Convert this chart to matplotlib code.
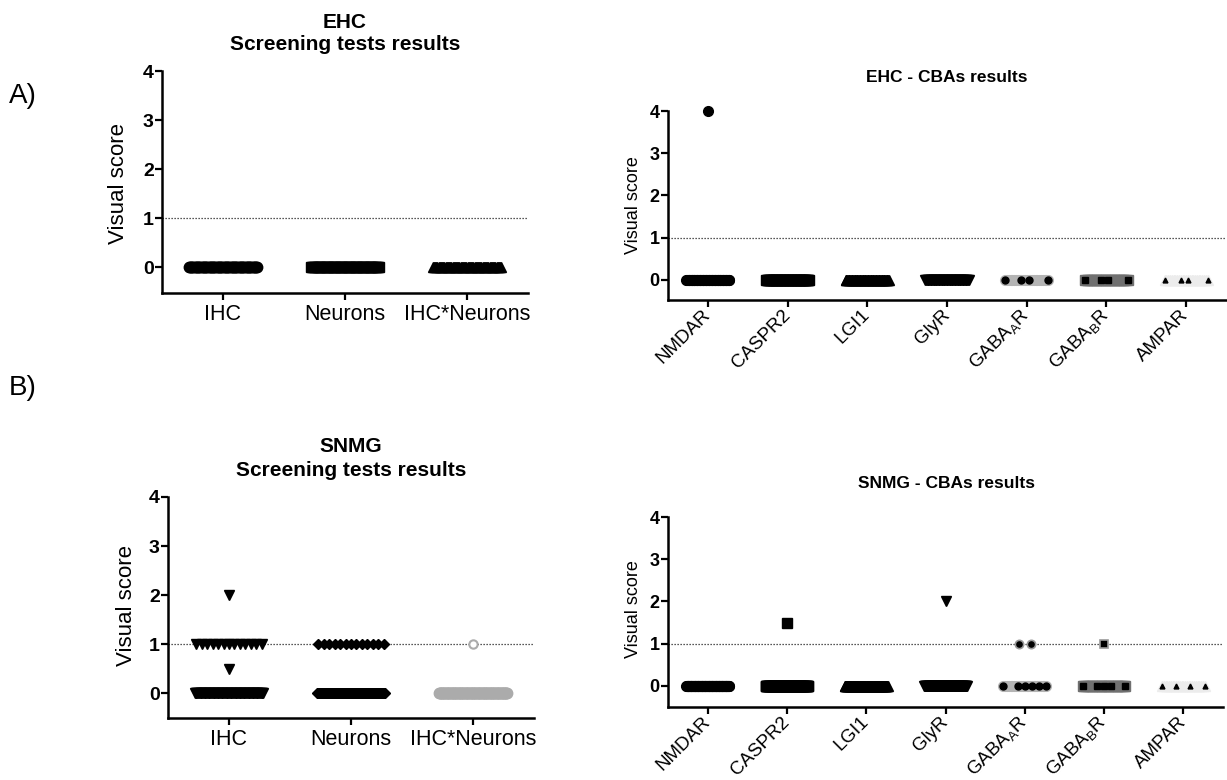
import numpy as np
import matplotlib
matplotlib.use("Agg")
import matplotlib.pyplot as plt

plt.rcParams['font.family'] = ['Liberation Sans', 'DejaVu Sans']

W, H = 1227, 780

# ---- data (visual scores) ----
screen_labels = ['IHC', 'Neurons', 'IHC*Neurons']
cba_labels = ['NMDAR', 'CASPR2', 'LGI1', 'GlyR',
              r'GABA$_\mathregular{A}$R', r'GABA$_\mathregular{B}$R', 'AMPAR']

# EHC screening: scores and number of samples per score
ehc_ihc_vals, ehc_ihc_n = [0], [60]
ehc_neu_vals, ehc_neu_n = [0], [60]
ehc_both_vals, ehc_both_n = [0], [60]

# SNMG screening
snmg_ihc_vals, snmg_ihc_n = [0, 0.5, 1, 2], [85, 1, 13, 1]
snmg_neu_vals, snmg_neu_n = [0, 1], [86, 13]
snmg_both_vals, snmg_both_n = [0, 1], [98, 1]

# EHC CBAs
ehc_nmdar_vals, ehc_nmdar_n = [0, 4], [59, 1]
ehc_caspr2_vals, ehc_caspr2_n = [0], [60]
ehc_lgi1_vals, ehc_lgi1_n = [0], [60]
ehc_glyr_vals, ehc_glyr_n = [0], [60]
ehc_gabaa_n, ehc_gabaa_black = 25, [0, 9, 13, 24]
ehc_gabab_n, ehc_gabab_black = 25, [0, 9, 13, 24]
ehc_ampar_n, ehc_ampar_black = 25, [0, 9, 13, 24]

# SNMG CBAs
snmg_nmdar_vals, snmg_nmdar_n = [0], [99]
snmg_caspr2_vals, snmg_caspr2_n = [0, 1.5], [98, 1]
snmg_lgi1_vals, snmg_lgi1_n = [0], [99]
snmg_glyr_vals, snmg_glyr_n = [0, 2], [98, 1]
snmg_gabaa_n, snmg_gabaa_black, snmg_gabaa_pos = 25, [0, 8, 12, 16, 20, 24], 2
snmg_gabab_n, snmg_gabab_black, snmg_gabab_pos = 25, [0, 8, 12, 16, 24], 1
snmg_ampar_n, snmg_ampar_black = 25, [0, 8, 16, 24]


def spread(n, step, cap):
    if n == 1:
        return np.zeros(1)
    hw = min(cap, step * (n - 1) / 2)
    return np.linspace(-hw, hw, n)


def column(ax, x, vals, counts, marker, color, ms, step, cap, mfc=None, mec=None, mew=1):
    for v, n in zip(vals, counts):
        off = spread(n, step, cap)
        ax.plot(x + off, np.full(n, v), ls='none', marker=marker, ms=ms,
                mfc=color if mfc is None else mfc, mec=color if mec is None else mec,
                mew=mew, clip_on=False, zorder=3)


def band(ax, x, n, black, marker, color, ms, bms, step, cap):
    off = spread(n, step, cap)
    ax.plot(x + off, np.zeros(n), ls='none', marker=marker, ms=ms, color=color,
            clip_on=False, zorder=3)
    ax.plot(x + off[black], np.zeros(len(black)), ls='none', marker=marker, ms=bms,
            color='black', clip_on=False, zorder=4)


def px_axes(l, r, t, b):
    return fig.add_axes([l / W, 1 - b / H, (r - l) / W, (b - t) / H])


def style(ax, ylim, labels, rot, ytick_fs, xtick_fs):
    ax.set_ylim(*ylim)
    ax.set_xlim(-0.5, len(labels) - 0.5)
    ax.set_yticks([0, 1, 2, 3, 4])
    ax.set_xticks(range(len(labels)))
    for s in ['top', 'right']:
        ax.spines[s].set_visible(False)
    for s in ['left', 'bottom']:
        ax.spines[s].set_linewidth(1.8)
    ax.tick_params(width=1.6, length=5, direction='out')
    ax.tick_params(axis='y', labelsize=ytick_fs, pad=1)
    for t in ax.get_yticklabels():
        t.set_fontweight('bold')
    if rot:
        ax.set_xticklabels(labels, rotation=45, ha='right', va='center',
                           rotation_mode='anchor', fontsize=xtick_fs)
        ax.tick_params(axis='x', pad=4)
    else:
        ax.set_xticklabels(labels, fontsize=xtick_fs)
        ax.tick_params(axis='x', pad=3)
    ax.axhline(1, color='#222222', lw=0.9, ls=(0, (1, 1.4)), zorder=1)


fig = plt.figure(figsize=(W / 100, H / 100), dpi=100)

# ---- A) EHC screening ----
ax1 = px_axes(162, 528, 71, 293)
st, cp = 0.045, 0.28
column(ax1, 0, ehc_ihc_vals, ehc_ihc_n, 'o', 'black', 7.5, st, cp)
column(ax1, 1, ehc_neu_vals, ehc_neu_n, 's', 'black', 7.5, st, cp)
column(ax1, 2, ehc_both_vals, ehc_both_n, '^', 'black', 7.5, st, cp)
style(ax1, (-0.53, 4), screen_labels, False, 14, 15.5)

# ---- A) EHC CBAs ----
ax2 = px_axes(668, 1226, 111, 300)
st, cp = 0.15, 0.27
column(ax2, 0, ehc_nmdar_vals, ehc_nmdar_n, 'o', 'black', 7, st, cp)
column(ax2, 1, ehc_caspr2_vals, ehc_caspr2_n, 's', 'black', 7, st, cp)
column(ax2, 2, ehc_lgi1_vals, ehc_lgi1_n, '^', 'black', 7, st, cp)
column(ax2, 3, ehc_glyr_vals, ehc_glyr_n, 'v', 'black', 7, st, cp)
band(ax2, 4, ehc_gabaa_n, ehc_gabaa_black, 'o', '#b4b4b4', 7, 5, st, cp)
band(ax2, 5, ehc_gabab_n, ehc_gabab_black, 's', '#707070', 7, 5, st, cp)
band(ax2, 6, ehc_ampar_n, ehc_ampar_black, '^', '#ececec', 7, 3.5, st, cp)
style(ax2, (-0.48, 4), cba_labels, True, 13, 13.5)

# ---- B) SNMG screening ----
ax3 = px_axes(168, 534, 497, 718)
st, cp = 0.045, 0.28
column(ax3, 0, snmg_ihc_vals, snmg_ihc_n, 'v', 'black', 7.5, st, cp)
column(ax3, 1, snmg_neu_vals, snmg_neu_n, 'D', 'black', 5.5, st, cp)
column(ax3, 2, snmg_both_vals[:1], snmg_both_n[:1], 'o', '#ababab', 7.5, st, cp)
column(ax3, 2, snmg_both_vals[1:], snmg_both_n[1:], 'o', '#ababab', 6, st, cp,
       mfc='white', mew=1.5)
style(ax3, (-0.51, 4), screen_labels, False, 14, 15.5)

# ---- B) SNMG CBAs ----
ax4 = px_axes(668, 1223, 517, 707)
st, cp = 0.15, 0.27
column(ax4, 0, snmg_nmdar_vals, snmg_nmdar_n, 'o', 'black', 7, st, cp)
column(ax4, 1, snmg_caspr2_vals, snmg_caspr2_n, 's', 'black', 7, st, cp)
column(ax4, 2, snmg_lgi1_vals, snmg_lgi1_n, '^', 'black', 7, st, cp)
column(ax4, 3, snmg_glyr_vals, snmg_glyr_n, 'v', 'black', 7, st, cp)
band(ax4, 4, snmg_gabaa_n, snmg_gabaa_black, 'o', '#b4b4b4', 7, 5, st, cp)
column(ax4, 4, [1], [snmg_gabaa_pos], 'o', 'black', 6, st, cp, mec='#9a9a9a', mew=1.2)
band(ax4, 5, snmg_gabab_n, snmg_gabab_black, 's', '#707070', 7, 5, st, cp)
column(ax4, 5, [1], [snmg_gabab_pos], 's', 'black', 6, st, cp, mec='#9a9a9a', mew=1.2)
band(ax4, 6, snmg_ampar_n, snmg_ampar_black, '^', '#ececec', 7, 3.5, st, cp)
style(ax4, (-0.5, 4), cba_labels, True, 13, 13.5)

# ---- titles, axis labels, panel letters ----
def ftext(x, y, s, **kw):
    fig.text(x / W, 1 - y / H, s, ha='center', va='center', **kw)

ftext(345, 22, 'EHC', fontsize=15, fontweight='bold')
ftext(345, 45, 'Screening tests results', fontsize=15, fontweight='bold')
ftext(947, 78, 'EHC - CBAs results', fontsize=12.5, fontweight='bold')
ftext(351, 447, 'SNMG', fontsize=15, fontweight='bold')
ftext(351, 471, 'Screening tests results', fontsize=15, fontweight='bold')
ftext(946, 483, 'SNMG - CBAs results', fontsize=12.5, fontweight='bold')

ftext(119, 184, 'Visual score', fontsize=16, rotation=90)
ftext(127, 606, 'Visual score', fontsize=16, rotation=90)
ftext(633, 205, 'Visual score', fontsize=13, rotation=90)
ftext(633, 609, 'Visual score', fontsize=13, rotation=90)

fig.text(9 / W, 1 - 96 / H, 'A)', fontsize=20, ha='left', va='center')
fig.text(9 / W, 1 - 388 / H, 'B)', fontsize=20, ha='left', va='center')

fig.savefig('out.png', dpi=100)
plt.close(fig)
